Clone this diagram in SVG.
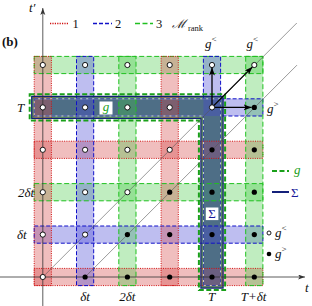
<svg xmlns="http://www.w3.org/2000/svg" width="312" height="306" viewBox="0 0 312 306">
<defs>
<style>
.rf{fill:rgb(212,69,69);fill-opacity:.35}
.bf{fill:rgb(69,69,212);fill-opacity:.35}
.gf{fill:rgb(60,200,60);fill-opacity:.32}
.rs{fill:none;stroke:#d01010;stroke-width:1;stroke-dasharray:1 1.3}
.bs{fill:none;stroke:#1010c8;stroke-width:1;stroke-dasharray:4 2}
.gs{fill:none;stroke:#20c020;stroke-width:1;stroke-dasharray:5 2.5}
.op{fill:#fff;stroke:#000;stroke-width:0.9}
.cl{fill:#000}
.it{font-family:"Liberation Serif","DejaVu Serif",serif;font-style:italic;font-size:13px;fill:#111}
.up{font-family:"Liberation Serif","DejaVu Serif",serif;font-size:12.5px;fill:#111}
.ax{stroke:#333;stroke-width:0.8;fill:none}
.dg{stroke:#555;stroke-width:0.6;fill:none}
.ar{stroke:#000;stroke-width:1.3;fill:none;marker-end:url(#ah)}
</style>
<marker id="axh" markerUnits="userSpaceOnUse" markerWidth="8" markerHeight="6" refX="7" refY="2.5" orient="auto"><path d="M0,0 L7,2.5 L0,5 L1.8,2.5z" fill="#333"/></marker>
<marker id="ah" markerUnits="userSpaceOnUse" markerWidth="9" markerHeight="7" refX="8" refY="3" orient="auto"><path d="M0,0 L8,3 L0,6 L2,3z" fill="#000"/></marker>
</defs>

<g id="highlight-fill">
<path d="M31.7,96.3 H223.1 V288.1 H200.9 V118.5 H31.7 Z" fill="rgb(84,132,92)"/>
</g>

<g id="bands">
<rect class="rf" x="34.2" y="268.4" width="228.7" height="17.2"/>
<rect class="bf" x="34.2" y="226" width="228.7" height="17.2"/>
<rect class="gf" x="34.2" y="183.6" width="228.7" height="17.2"/>
<rect class="rf" x="34.2" y="141.2" width="228.7" height="17.2"/>
<rect class="bf" x="34.2" y="98.8" width="228.7" height="17.2"/>
<rect class="gf" x="34.2" y="56.4" width="228.7" height="17.2"/>
<rect class="rf" x="34.2" y="56.4" width="17.2" height="229.2"/>
<rect class="bf" x="76.5" y="56.4" width="17.2" height="229.2"/>
<rect class="gf" x="118.8" y="56.4" width="17.2" height="229.2"/>
<rect class="rf" x="161.1" y="56.4" width="17.2" height="229.2"/>
<rect class="bf" x="203.4" y="56.4" width="17.2" height="229.2"/>
<rect class="gf" x="245.7" y="56.4" width="17.2" height="229.2"/>
</g>

<g id="band-borders">
<rect class="rs" x="34.2" y="268.4" width="228.7" height="17.2"/>
<rect class="bs" x="34.2" y="226" width="228.7" height="17.2"/>
<rect class="gs" x="34.2" y="183.6" width="228.7" height="17.2"/>
<rect class="rs" x="34.2" y="141.2" width="228.7" height="17.2"/>
<path class="bs" d="M220.6,98.8 H262.9 V116 H220.6"/>
<rect class="gs" x="34.2" y="56.4" width="228.7" height="17.2"/>
<rect class="rs" x="34.2" y="56.4" width="17.2" height="229.2"/>
<rect class="bs" x="76.5" y="56.4" width="17.2" height="229.2"/>
<rect class="gs" x="118.8" y="56.4" width="17.2" height="229.2"/>
<rect class="rs" x="161.1" y="56.4" width="17.2" height="229.2"/>
<path class="bs" d="M203.4,98.8 V56.4 H220.6 V98.8"/>
<rect class="gs" x="245.7" y="56.4" width="17.2" height="229.2"/>
</g>

<g id="highlight-outline">
<path d="M34.2,98.8 H220.6 V285.6 H203.4 V116 H34.2 Z" fill="none" stroke="#fff" stroke-width="0.9" stroke-opacity="0.8"/>
<path d="M34.2,98.8 H220.6 V285.6 H203.4 V116 H34.2 Z" fill="none" stroke="#1a2a9a" stroke-width="0.9" stroke-dasharray="4 2"/>
<path id="sigma-outline" d="M31.7,96.3 H223.1 V288.1 H200.9 V118.5 H31.7 Z" fill="none" stroke="#14207a" stroke-width="1.2"/>
<path id="g-outline" d="M29.7,94.3 H225.1 V290.1 H198.9 V120.5 H29.7 Z" fill="none" stroke="#1aa01a" stroke-width="2" stroke-dasharray="5 2.5"/>
</g>

<g id="connectors">
<line class="ax" x1="42.8" y1="306" x2="42.8" y2="8" marker-end="url(#axh)"/>
<line class="ax" x1="0" y1="277" x2="305" y2="277" marker-end="url(#axh)"/>
<line class="dg" x1="42.8" y1="277" x2="296.8" y2="23"/>
<line class="dg" x1="85.1" y1="277" x2="297" y2="65.1"/>
<line class="ar" x1="212" y1="107.4" x2="212" y2="67.6"/>
<line class="ar" x1="212" y1="107.4" x2="252.4" y2="66.9"/>
<line class="ar" x1="212" y1="107.4" x2="251.6" y2="107.4"/>
</g>

<g id="dots">
<circle class="op" cx="42.8" cy="277" r="2.6"/>
<circle class="cl" cx="85.1" cy="277" r="2.6"/>
<circle class="cl" cx="127.4" cy="277" r="2.6"/>
<circle class="cl" cx="169.7" cy="277" r="2.6"/>
<circle class="cl" cx="212" cy="277" r="2.6"/>
<circle class="cl" cx="254.3" cy="277" r="2.6"/>
<circle class="op" cx="42.8" cy="234.6" r="2.6"/>
<circle class="op" cx="85.1" cy="234.6" r="2.6"/>
<circle class="cl" cx="127.4" cy="234.6" r="2.6"/>
<circle class="cl" cx="169.7" cy="234.6" r="2.6"/>
<circle class="cl" cx="212" cy="234.6" r="2.6"/>
<circle class="cl" cx="254.3" cy="234.6" r="2.6"/>
<circle class="op" cx="42.8" cy="192.2" r="2.6"/>
<circle class="op" cx="85.1" cy="192.2" r="2.6"/>
<circle class="op" cx="127.4" cy="192.2" r="2.6"/>
<circle class="cl" cx="169.7" cy="192.2" r="2.6"/>
<circle class="cl" cx="212" cy="192.2" r="2.6"/>
<circle class="cl" cx="254.3" cy="192.2" r="2.6"/>
<circle class="op" cx="42.8" cy="149.8" r="2.6"/>
<circle class="op" cx="85.1" cy="149.8" r="2.6"/>
<circle class="op" cx="127.4" cy="149.8" r="2.6"/>
<circle class="op" cx="169.7" cy="149.8" r="2.6"/>
<circle class="cl" cx="212" cy="149.8" r="2.6"/>
<circle class="cl" cx="254.3" cy="149.8" r="2.6"/>
<circle class="op" cx="42.8" cy="107.4" r="2.6"/>
<circle class="op" cx="85.1" cy="107.4" r="2.6"/>
<circle class="op" cx="127.4" cy="107.4" r="2.6"/>
<circle class="op" cx="169.7" cy="107.4" r="2.6"/>
<circle class="op" cx="212" cy="107.4" r="2.6"/>
<circle class="cl" cx="254.3" cy="107.4" r="2.6"/>
<circle class="op" cx="42.8" cy="65" r="2.6"/>
<circle class="op" cx="85.1" cy="65" r="2.6"/>
<circle class="op" cx="127.4" cy="65" r="2.6"/>
<circle class="op" cx="169.7" cy="65" r="2.6"/>
<circle class="op" cx="212" cy="65" r="2.6"/>
<circle class="op" cx="254.3" cy="65" r="2.6"/>
</g>

<g id="label-g">
<rect x="99.5" y="101.5" width="13" height="13" fill="#fff"/>
<text class="it" x="106" y="111" text-anchor="middle" style="fill:#1aa01a">g</text>
</g>
<g id="label-sigma">
<rect x="205.8" y="207.5" width="12.6" height="12.6" fill="#fff"/>
<text x="212.1" y="218.3" text-anchor="middle" font-family="Liberation Serif,DejaVu Serif,serif" font-size="13" fill="#1a1a9a">Σ</text>
</g>

<g id="axis-labels">
<text class="it" x="29" y="12">t′</text>
<text class="it" x="305" y="292">t</text>
<text class="it" x="17" y="112">T</text>
<text class="it" x="18" y="197">2δt</text>
<text class="it" x="17" y="239">δt</text>
<text class="it" x="85.1" y="301" text-anchor="middle">δt</text>
<text class="it" x="127.4" y="301" text-anchor="middle">2δt</text>
<text class="it" x="211.5" y="301" text-anchor="middle">T</text>
<text class="it" x="253.6" y="301" text-anchor="middle">T+δt</text>
<text x="2" y="46" font-family="Liberation Serif,DejaVu Serif,serif" font-weight="bold" font-size="13" fill="#111">(b)</text>
</g>

<g id="g-labels">
<text class="it" x="205" y="48">g<tspan dy="-6" font-size="9" font-style="normal">&lt;</tspan></text>
<text class="it" x="246.5" y="48">g<tspan dy="-6" font-size="9" font-style="normal">&lt;</tspan></text>
<text class="it" x="267" y="113">g<tspan dy="-6" font-size="9" font-style="normal">&gt;</tspan></text>
</g>

<g id="legend-top">
<line x1="50" y1="23.5" x2="68" y2="23.5" style="stroke:#d01010;stroke-width:1.3;stroke-dasharray:1.2 1.2"/>
<text class="up" x="72.5" y="28">1</text>
<line x1="93" y1="23.5" x2="112" y2="23.5" style="stroke:#1010c8;stroke-width:1.3;stroke-dasharray:4 2"/>
<text class="up" x="115" y="28">2</text>
<line x1="135" y1="23.5" x2="153" y2="23.5" style="stroke:#20c020;stroke-width:1.3;stroke-dasharray:5 2.5"/>
<text class="up" x="156" y="28">3</text>
<text x="172" y="28" font-family="DejaVu Serif,serif" font-size="12" font-style="italic" fill="#111">ℳ</text>
<text x="188" y="31" font-family="Liberation Serif,DejaVu Serif,serif" font-size="8.5" fill="#111">rank</text>
</g>

<g id="legend-right">
<line x1="272" y1="171" x2="289" y2="171" stroke="#1aa01a" stroke-width="2" stroke-dasharray="5 2.5"/>
<text class="it" x="294" y="174" style="fill:#1aa01a">g</text>
<line x1="272" y1="192" x2="289" y2="192" stroke="#14207a" stroke-width="2"/>
<text x="291" y="196.5" font-family="Liberation Serif,DejaVu Serif,serif" font-size="13" fill="#1a1a9a">Σ</text>
<circle class="op" cx="269" cy="233" r="2"/>
<text class="it" x="275" y="237">g<tspan dy="-6" font-size="9" font-style="normal">&lt;</tspan></text>
<circle class="cl" cx="269" cy="254" r="2.3"/>
<text class="it" x="275" y="258">g<tspan dy="-6" font-size="9" font-style="normal">&gt;</tspan></text>
</g>
</svg>
